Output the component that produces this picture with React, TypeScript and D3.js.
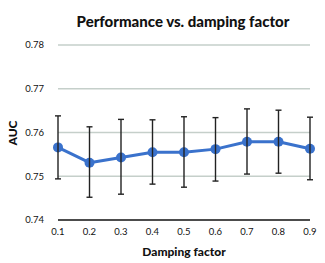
import React from "react";
import * as d3 from "d3";

const categories = ["0.1", "0.2", "0.3", "0.4", "0.5", "0.6", "0.7", "0.8", "0.9"];
const auc = [0.7566, 0.7531, 0.7543, 0.7555, 0.7555, 0.7562, 0.7579, 0.7579, 0.7563];
const errHigh = [0.7638, 0.7613, 0.763, 0.7629, 0.7636, 0.7634, 0.7654, 0.7651, 0.7635];
const errLow = [0.7494, 0.7452, 0.7459, 0.7482, 0.7475, 0.7489, 0.7505, 0.7507, 0.7492];
const yTicks = [0.74, 0.75, 0.76, 0.77, 0.78];

const W = 325;
const H = 263;
const FONT = "Lato, 'Open Sans', sans-serif";

export default function App() {
  const x = d3.scalePoint<string>().domain(categories).range([58, 310]).padding(0);
  const y = d3.scaleLinear().domain([0.74, 0.78]).range([220, 45]);
  const line = d3
    .line<number>()
    .x((_, i) => x(categories[i]) as number)
    .y((d) => y(d));

  return (
    <svg
      width={W}
      height={H}
      style={{ position: "absolute", left: 0, top: 0, background: "#fff" }}
    >
      <text
        x={183}
        y={27}
        textAnchor="middle"
        fontFamily={FONT}
        fontWeight={900}
        fontSize={15}
        fill="#111"
      >
        Performance vs. damping factor
      </text>
      {yTicks.map((t) => (
        <g key={t}>
          <line
            x1={58}
            x2={310}
            y1={y(t)}
            y2={y(t)}
            stroke={t === 0.74 ? "#111" : "#c5cfca"}
            strokeWidth={1.3}
          />
          <text
            x={44}
            y={y(t)}
            dy="0.35em"
            textAnchor="end"
            fontFamily={FONT}
            fontSize={9.5}
            fill="#111"
          >
            {t.toFixed(2)}
          </text>
        </g>
      ))}
      {categories.map((c) => (
        <text
          key={c}
          x={x(c)}
          y={235}
          textAnchor="middle"
          fontFamily={FONT}
          fontSize={9.5}
          fill="#111"
        >
          {c}
        </text>
      ))}
      <text
        x={184}
        y={256}
        textAnchor="middle"
        fontFamily={FONT}
        fontWeight={900}
        fontSize={12}
        fill="#111"
      >
        Damping factor
      </text>
      <text
        transform="translate(17,133) rotate(-90)"
        textAnchor="middle"
        fontFamily={FONT}
        fontWeight={900}
        fontSize={12}
        fill="#111"
      >
        AUC
      </text>
      <path d={line(auc) || ""} fill="none" stroke="#3a72cc" strokeWidth={3} strokeLinejoin="round" />
      {auc.map((v, i) => (
        <circle key={i} cx={x(categories[i])} cy={y(v)} r={5} fill="#3a72cc" />
      ))}
      {categories.map((c, i) => {
        const cx = x(c) as number;
        return (
          <g key={c} stroke="#222" strokeWidth={1.4}>
            <line x1={cx} x2={cx} y1={y(errHigh[i])} y2={y(errLow[i])} />
            <line x1={cx - 3} x2={cx + 3} y1={y(errHigh[i])} y2={y(errHigh[i])} />
            <line x1={cx - 3} x2={cx + 3} y1={y(errLow[i])} y2={y(errLow[i])} />
          </g>
        );
      })}
    </svg>
  );
}
